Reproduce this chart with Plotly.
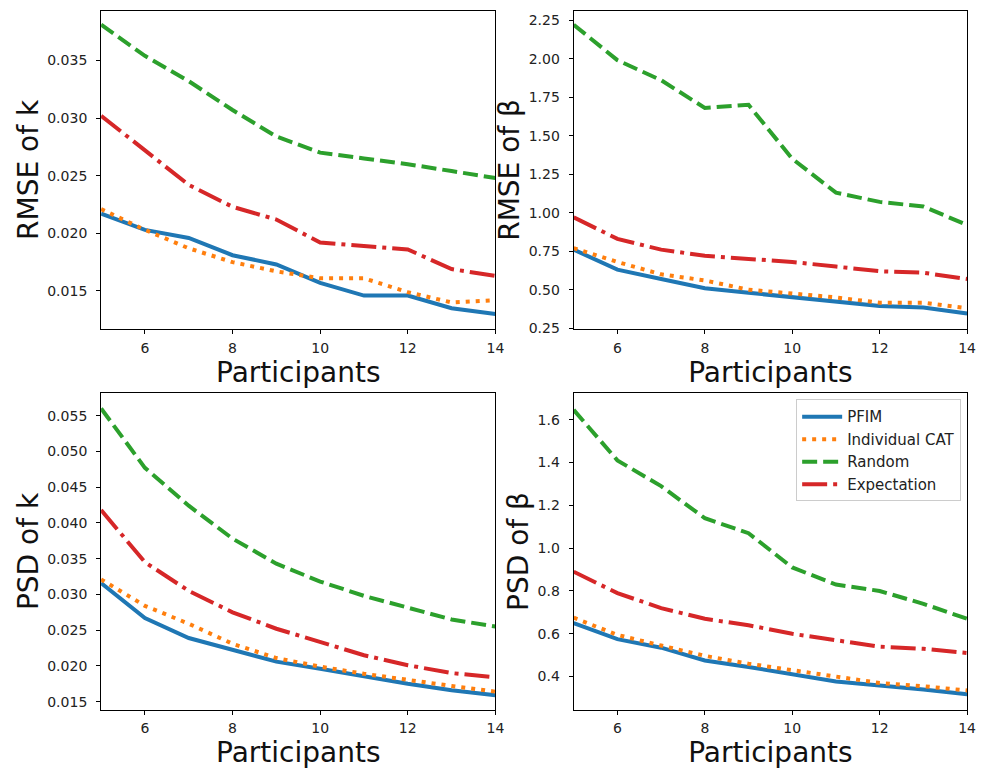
import plotly.graph_objects as go

participants = [5, 6, 7, 8, 9, 10, 11, 12, 13, 14]
series_names = ["PFIM", "Individual CAT", "Random", "Expectation"]

# RMSE of k
rmse_k_pfim = [0.0217, 0.0203, 0.0196, 0.0181, 0.0173, 0.0157, 0.0146, 0.0146, 0.0135, 0.0130]
rmse_k_cat = [0.0221, 0.0203, 0.0187, 0.0175, 0.0167, 0.0161, 0.0161, 0.0149, 0.0140, 0.0142]
rmse_k_random = [0.0381, 0.0354, 0.0332, 0.0307, 0.0284, 0.0270, 0.0265, 0.0260, 0.0254, 0.0248]
rmse_k_expect = [0.0302, 0.0272, 0.0242, 0.0223, 0.0212, 0.0192, 0.0189, 0.0186, 0.0169, 0.0163]

# RMSE of beta
rmse_b_pfim = [0.76, 0.63, 0.57, 0.51, 0.48, 0.45, 0.42, 0.395, 0.385, 0.345]
rmse_b_cat = [0.77, 0.68, 0.60, 0.56, 0.50, 0.475, 0.45, 0.415, 0.415, 0.38]
rmse_b_random = [2.22, 1.99, 1.86, 1.68, 1.70, 1.35, 1.13, 1.07, 1.04, 0.92]
rmse_b_expect = [0.97, 0.83, 0.76, 0.72, 0.70, 0.68, 0.65, 0.62, 0.61, 0.57]

# PSD of k
psd_k_pfim = [0.0316, 0.0267, 0.0239, 0.0222, 0.0206, 0.0196, 0.0185, 0.0175, 0.0166, 0.0159]
psd_k_cat = [0.0321, 0.0284, 0.0259, 0.0231, 0.0211, 0.0199, 0.0189, 0.0180, 0.0172, 0.0164]
psd_k_random = [0.0560, 0.0477, 0.0424, 0.0378, 0.0343, 0.0318, 0.0298, 0.0281, 0.0265, 0.0255]
psd_k_expect = [0.0418, 0.0345, 0.0305, 0.0275, 0.0252, 0.0233, 0.0215, 0.0201, 0.0190, 0.0184]

# PSD of beta
psd_b_pfim = [0.65, 0.575, 0.535, 0.475, 0.445, 0.41, 0.377, 0.358, 0.34, 0.317]
psd_b_cat = [0.675, 0.595, 0.545, 0.497, 0.46, 0.43, 0.40, 0.37, 0.355, 0.335]
psd_b_random = [1.646, 1.41, 1.29, 1.14, 1.07, 0.91, 0.83, 0.80, 0.74, 0.67]
psd_b_expect = [0.89, 0.79, 0.72, 0.67, 0.64, 0.60, 0.57, 0.54, 0.53, 0.51]

x_ticks = [6, 8, 10, 12, 14]
rmse_k_ticks = [0.015, 0.020, 0.025, 0.030, 0.035]
rmse_b_ticks = [0.25, 0.50, 0.75, 1.00, 1.25, 1.50, 1.75, 2.00, 2.25]
psd_k_ticks = [0.015, 0.020, 0.025, 0.030, 0.035, 0.040, 0.045, 0.050, 0.055]
psd_b_ticks = [0.4, 0.6, 0.8, 1.0, 1.2, 1.4, 1.6]

colors = ["#1f77b4", "#ff7f0e", "#2ca02c", "#d62728"]
dashes = ["solid", "4px,6px", "15px,6px", "25px,6px,4px,6px"]

panels = [
    dict(data=[rmse_k_pfim, rmse_k_cat, rmse_k_random, rmse_k_expect], title="RMSE of k",
         ticks=rmse_k_ticks, fmt=".3f", rng=[0.0117, 0.0393],
         xdom=[0.1037, 0.5081], ydom=[0.5733, 0.9859]),
    dict(data=[rmse_b_pfim, rmse_b_cat, rmse_b_random, rmse_b_expect], title="RMSE of β",
         ticks=rmse_b_ticks, fmt=".2f", rng=[0.245, 2.31],
         xdom=[0.5884, 0.9919], ydom=[0.5733, 0.9859]),
    dict(data=[psd_k_pfim, psd_k_cat, psd_k_random, psd_k_expect], title="PSD of k",
         ticks=psd_k_ticks, fmt=".3f", rng=[0.0139, 0.0581],
         xdom=[0.1037, 0.5081], ydom=[0.0797, 0.4897]),
    dict(data=[psd_b_pfim, psd_b_cat, psd_b_random, psd_b_expect], title="PSD of β",
         ticks=psd_b_ticks, fmt=".1f", rng=[0.246, 1.723],
         xdom=[0.5884, 0.9919], ydom=[0.0797, 0.4897]),
]

fig = go.Figure()
font_family = "DejaVu Sans"
layout = dict(
    width=984, height=778,
    margin=dict(l=0, r=0, t=0, b=0),
    paper_bgcolor="white", plot_bgcolor="white",
    font=dict(family=font_family, color="#222222"),
    showlegend=True,
    legend=dict(x=0.9858, y=0.482, xanchor="right", yanchor="top",
                bgcolor="white", bordercolor="#cccccc", borderwidth=1,
                font=dict(size=15, family=font_family, color="#222222"),
                tracegroupgap=0, itemwidth=40),
)

for i, p in enumerate(panels):
    idx = "" if i == 0 else str(i + 1)
    xa = "x" + idx
    ya = "y" + idx
    for j, name in enumerate(series_names):
        fig.add_trace(go.Scatter(
            x=participants, y=p["data"][j], mode="lines", name=name,
            line=dict(color=colors[j], width=4, dash=dashes[j]),
            xaxis=xa, yaxis=ya, showlegend=(i == 3), legendgroup=name,
        ))
    layout["xaxis" + idx] = dict(
        domain=p["xdom"], anchor=ya, range=[5, 14], tickvals=x_ticks,
        showline=True, mirror=True, linecolor="black", linewidth=1,
        ticks="outside", ticklen=4, tickcolor="black", showgrid=False, zeroline=False,
        ticklabelstandoff=2,
        tickfont=dict(size=14, family=font_family, color="#222222"),
        title=dict(text="Participants", font=dict(size=28, family=font_family, color="#111111"), standoff=4),
    )
    layout["yaxis" + idx] = dict(
        domain=p["ydom"], anchor=xa, range=p["rng"], tickvals=p["ticks"], tickformat=p["fmt"],
        showline=True, mirror=True, linecolor="black", linewidth=1,
        ticks="outside", ticklen=4, tickcolor="black", showgrid=False, zeroline=False,
        ticklabelstandoff=6,
        tickfont=dict(size=14, family=font_family, color="#222222"),
        title=dict(text=p["title"], font=dict(size=28, family=font_family, color="#111111"), standoff=0),
    )

fig.update_layout(**layout)
fig.write_html(
    "out.html",
    config={"displayModeBar": False},
    post_script=("document.body.style.margin='0';"
                 "document.body.style.overflow='hidden';"
                 "document.documentElement.style.overflow='hidden';"),
)
